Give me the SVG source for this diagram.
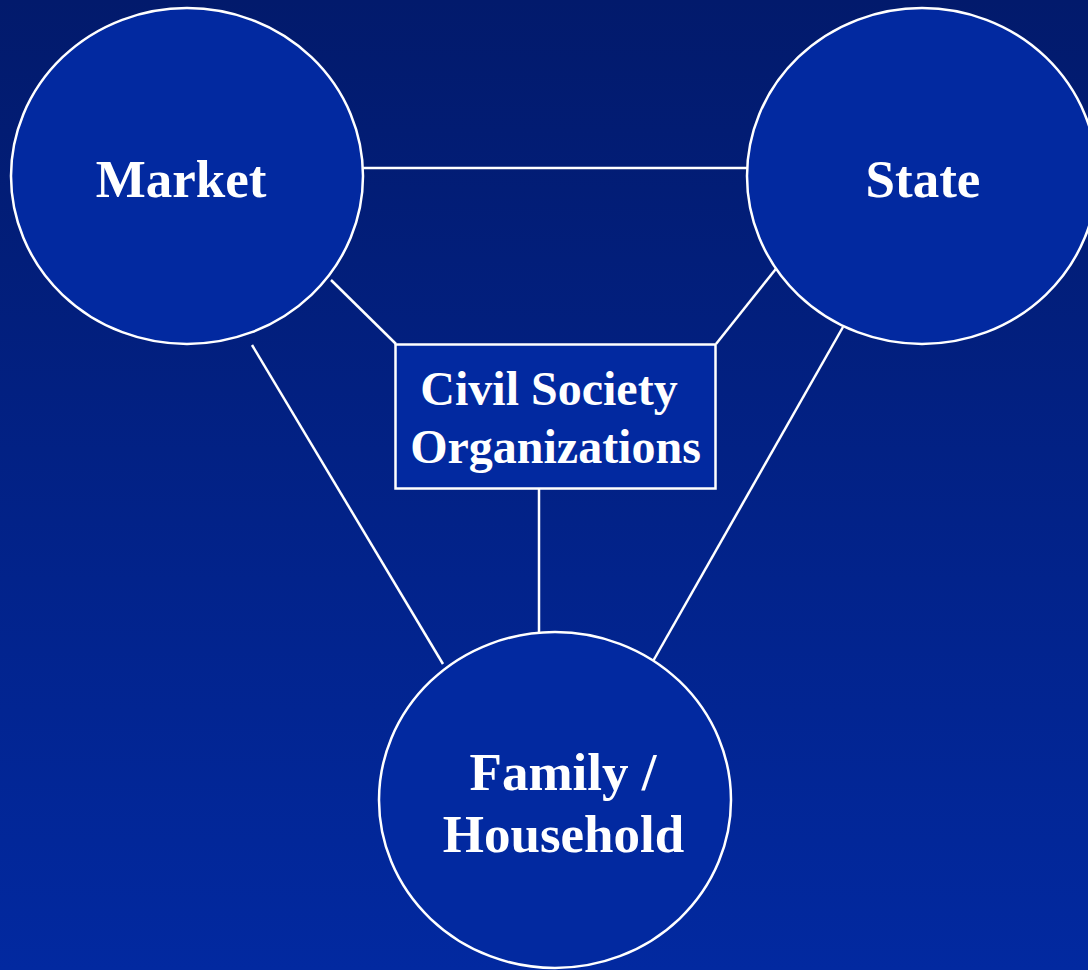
<svg xmlns="http://www.w3.org/2000/svg" width="1088" height="970" viewBox="0 0 1088 970">
<defs>
<linearGradient id="bg" x1="0" y1="0" x2="0" y2="1">
<stop offset="0" stop-color="#021a6c"/>
<stop offset="1" stop-color="#0229a0"/>
</linearGradient>
<style>
.node{fill:#0229a0;stroke:#ffffff;stroke-width:2.5}
.lbl{font-family:"Liberation Serif","Times New Roman",serif;font-weight:bold;fill:#ffffff;text-anchor:middle}
.conn line{stroke:#ffffff;stroke-width:2.5}
</style>
</defs>
<rect width="1088" height="970" fill="url(#bg)"/>
<g class="conn" id="connectors">
<line x1="363" y1="168" x2="747" y2="168"/>
<line x1="331" y1="280" x2="396" y2="344"/>
<line x1="779" y1="265" x2="716" y2="344"/>
<line x1="252" y1="345" x2="443" y2="664"/>
<line x1="843" y1="327" x2="652" y2="663"/>
<line x1="539" y1="489" x2="539" y2="632"/>
</g>
<g id="market">
<ellipse class="node" cx="187" cy="176" rx="176" ry="168"/>
<text class="lbl" x="181" y="197" font-size="53">Market</text>
</g>
<g id="state">
<ellipse class="node" cx="922" cy="176" rx="175" ry="168"/>
<text class="lbl" x="923" y="197" font-size="53">State</text>
</g>
<g id="cso">
<rect class="node" x="395.5" y="344.5" width="320" height="144"/>
<text class="lbl" x="549" y="405" font-size="48">Civil Society</text>
<text class="lbl" x="555.5" y="463" font-size="48">Organizations</text>
</g>
<g id="family">
<ellipse class="node" cx="555" cy="800" rx="176" ry="168"/>
<text class="lbl" x="563" y="790" font-size="53">Family /</text>
<text class="lbl" x="563.5" y="852" font-size="53">Household</text>
</g>
</svg>
